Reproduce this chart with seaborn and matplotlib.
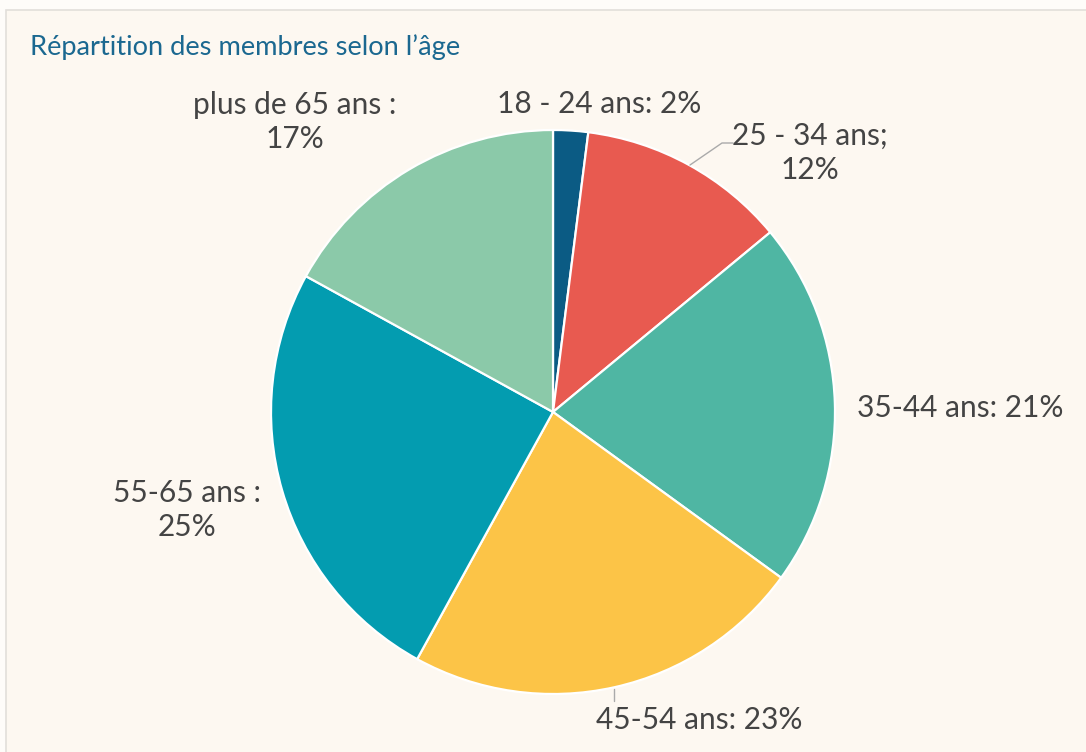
import matplotlib
matplotlib.use("Agg")
import matplotlib.pyplot as plt
from matplotlib.patches import Rectangle
import seaborn as sns

# ---- data ----
categories = ["18 - 24 ans", "25 - 34 ans", "35-44 ans", "45-54 ans", "55-65 ans", "plus de 65 ans"]
values = [2, 12, 21, 23, 25, 17]
label_texts = ["18 - 24 ans: 2%", "25 - 34 ans;\n12%", "35-44 ans: 21%",
               "45-54 ans: 23%", "55-65 ans :\n25%", "plus de 65 ans :\n17%"]
colors = ["#0B5B84", "#E85A50", "#4FB6A3", "#FCC447", "#039CB0", "#8BC9A9"]
title = "Répartition des membres selon l\u2019âge"

sns.set_theme(style="white")
plt.rcParams['font.family'] = ['Lato', 'DejaVu Sans']

W, H = 1086, 752
fig = plt.figure(figsize=(W / 100, H / 100), dpi=100)
fig.patch.set_facecolor("#FEFCF9")

ax = fig.add_axes([0, 0, 1, 1])
ax.set_facecolor("none")

palette = sns.color_palette(colors)
ax.pie(values, colors=palette, startangle=90, counterclock=False, radius=1,
       wedgeprops=dict(edgecolor="white", linewidth=1.6))

cx, cy, R = 553, 412, 282
ax.set_xlim(-cx / R, (W - cx) / R)
ax.set_ylim(-(H - cy) / R, cy / R)
ax.set_aspect("equal", adjustable="datalim")
ax.axis("off")

# panel with light border
ax.add_patch(Rectangle((6 / W, -0.1), 1.2, 1 - 10 / H + 0.1, transform=fig.transFigure,
                       facecolor="#FDF8F1", edgecolor="#E2DFDA", linewidth=1.2, zorder=-5,
                       clip_on=False))

def px(x, y):
    return ((x - cx) / R, (cy - y) / R)

tc = "#444444"
fs = 21.5
# label placements (pixel positions, style only)
placements = [
    (497, 104, "left"),
    (810, 153, "center"),
    (857, 408, "left"),
    (596, 720, "left"),
    (187, 510, "center"),
    (295, 122, "center"),
]
for txt, (x, y, ha) in zip(label_texts, placements):
    ax.text(*px(x, y), txt, ha=ha, va="center", fontsize=fs, color=tc,
            linespacing=1.25)

# leader lines
lx = [px(690, 165)[0], px(722, 143)[0], px(733, 143)[0]]
ly = [px(690, 165)[1], px(722, 143)[1], px(733, 143)[1]]
ax.plot(lx, ly, color="#AAAAAA", lw=1)
ax.plot([px(614, 689)[0]] * 2, [px(614, 689)[1], px(614, 701)[1]], color="#AAAAAA", lw=1)

fig.text(30 / W, 1 - 47 / H, title, ha="left", va="center", fontsize=19.6,
         color="#1B6890")

fig.savefig("out.png", dpi=100, facecolor=fig.get_facecolor())
